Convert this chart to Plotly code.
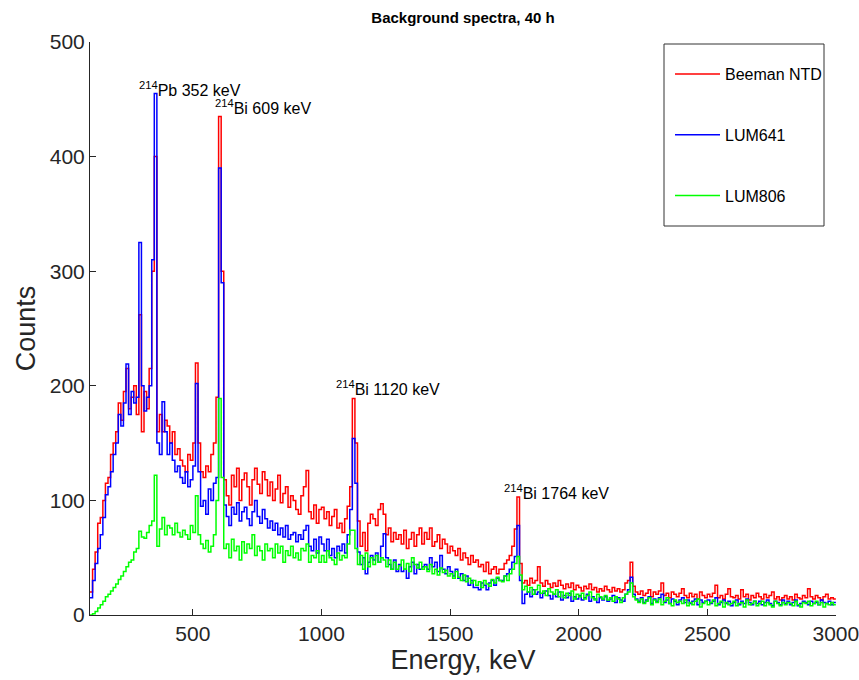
import numpy as np
import plotly.graph_objects as go

# 10 keV bins, left edges from 100 keV up to 2990 keV
energy = np.arange(100, 3000, 10)

beeman_ntd = [
    20, 40, 55, 80, 85, 100, 115, 120, 140, 150,
    160, 185, 170, 195, 215, 180, 190, 200, 175, 262,
    160, 195, 180, 215, 300, 400, 160, 175, 160, 170,
    165, 150, 160, 140, 145, 135, 130, 125, 140, 135,
    150, 220, 150, 125, 120, 130, 125, 140, 150, 190,
    435, 300, 118, 104, 96, 122, 112, 128, 100, 118,
    124, 112, 96, 118, 128, 114, 106, 125, 118, 104,
    116, 100, 110, 122, 98, 106, 112, 94, 104, 100,
    92, 88, 104, 112, 126, 90, 84, 96, 80, 92,
    94, 84, 90, 78, 86, 92, 76, 80, 72, 84,
    95, 112, 189, 150, 82, 60, 72, 56, 80, 88,
    84, 78, 92, 97, 88, 70, 76, 64, 72, 66,
    70, 62, 74, 58, 66, 72, 60, 70, 76, 62,
    72, 66, 76, 60, 64, 70, 58, 66, 62, 54,
    60, 56, 52, 58, 48, 54, 50, 44, 52, 46,
    48, 42, 44, 38, 46, 36, 40, 42, 36, 40,
    40, 45, 48, 52, 60, 75, 103, 45, 28, 30,
    26, 32, 28, 30, 42, 28, 25, 30, 27, 24,
    28, 25, 30, 26, 23, 27, 24, 28, 22, 26,
    24, 21, 25, 23, 27, 22, 24, 20, 23, 21,
    25, 22, 20, 24, 21, 23, 20, 22, 28, 30,
    46, 25, 20, 18, 21, 17, 19, 22, 16, 20,
    18, 21, 28, 17, 19, 15, 20, 18, 16, 19,
    23, 17, 15, 19, 16, 18, 14, 20, 17, 15,
    18, 16, 19, 26, 15, 17, 14, 18, 23, 16,
    15, 17, 14, 22, 16, 18, 13, 17, 15, 19,
    16, 14, 18, 15, 17, 20, 14, 16, 13, 15,
    17, 14, 16, 13, 18, 15, 14, 17, 15, 23,
    16, 14, 17, 15, 13, 16, 18, 14, 15, 14,
]

lum641 = [
    15, 30, 45, 58, 70, 85, 105, 112, 125, 140,
    150, 175, 165, 185, 219, 175, 195, 185, 190, 325,
    200, 178, 190, 200, 310, 455, 150, 140, 186, 160,
    140, 150, 135, 125, 130, 120, 115, 125, 112, 118,
    130, 202, 125, 95, 100, 88, 110, 100, 115, 120,
    390, 290, 96, 86, 78, 94, 88, 98, 82, 90,
    94, 84, 78, 90, 100, 86, 80, 92, 84, 76,
    82, 74, 80, 70, 76, 68, 78, 66, 70, 72,
    64, 70, 66, 74, 78, 60, 56, 66, 54, 68,
    62, 56, 66, 52, 58, 50, 60, 56, 62, 54,
    70, 92, 154, 115, 55, 44, 50, 36, 46, 52,
    48, 54, 46, 60, 71, 50, 44, 40, 48, 38,
    44, 38, 40, 32, 42, 46, 36, 44, 40, 42,
    44, 40, 50, 42, 46, 38, 52, 40, 36, 42,
    38, 34, 40, 32, 36, 30, 34, 26, 30, 24,
    24, 22, 28, 26, 22, 28, 30, 26, 32, 30,
    30, 34, 36, 40, 46, 51, 78, 30, 10, 18,
    20, 16, 22, 18, 20, 15, 19, 21, 17, 14,
    18, 16, 20, 13, 17, 15, 19, 12, 16, 14,
    17, 13, 15, 18, 12, 16, 14, 11, 15, 13,
    16, 12, 14, 17, 11, 15, 13, 12, 18, 22,
    33, 18, 14, 12, 15, 11, 13, 16, 10, 14,
    12, 15, 18, 11, 13, 10, 14, 12, 9, 13,
    15, 11, 13, 10, 12, 14, 9, 13, 11, 12,
    13, 10, 12, 15, 9, 11, 13, 10, 12, 8,
    11, 13, 9, 12, 10, 14, 11, 9, 12, 10,
    12, 9, 11, 13, 10, 8, 12, 11, 9, 13,
    10, 12, 9, 11, 13, 8, 10, 12, 11, 9,
    12, 10, 11, 9, 13, 11, 10, 12, 9, 11,
]

lum806 = [
    0, 1, 3, 6, 9, 12, 16, 18, 21, 24,
    27, 31, 34, 38, 42, 46, 48, 55, 58, 73,
    68, 67, 72, 78, 82, 122, 60, 75, 85, 70,
    78, 76, 70, 80, 72, 68, 74, 70, 66, 78,
    72, 104, 70, 62, 58, 65, 55, 60, 70, 100,
    189, 120, 58, 62, 50, 66, 56, 60, 48, 64,
    54, 62, 58, 70, 52, 60, 56, 48, 62, 56,
    58, 50, 62, 54, 60, 46, 56, 52, 60, 50,
    54, 48, 58, 56, 62, 46, 52, 50, 56, 46,
    52, 46, 56, 50, 48, 44, 54, 48, 52, 50,
    62, 74, 74, 58, 44, 52, 40, 54, 42, 50,
    44, 52, 46, 50, 48, 42, 48, 40, 46, 40,
    43, 48, 40, 45, 38, 50, 44, 41, 46, 40,
    42, 38, 44, 36, 40, 35, 41, 37, 39, 34,
    36, 32, 38, 33, 30, 35, 29, 32, 28, 30,
    26, 29, 24, 30, 27, 25, 31, 28, 33, 30,
    29, 34, 30, 36, 40, 45, 51, 35, 22, 25,
    20, 24, 18, 22, 26, 19, 21, 17, 23, 20,
    18, 22, 16, 20, 15, 19, 17, 21, 14, 18,
    16, 19, 14, 17, 20, 15, 13, 18, 16, 14,
    17, 13, 15, 12, 16, 14, 11, 15, 18, 20,
    28, 16, 13, 11, 14, 10, 12, 15, 9, 13,
    11, 14, 9, 12, 15, 10, 8, 13, 11, 12,
    10, 13, 8, 11, 9, 12, 14, 7, 10, 12,
    9, 11, 13, 8, 10, 12, 7, 11, 9, 10,
    12, 8, 10, 11, 7, 13, 9, 10, 12, 8,
    10, 12, 8, 11, 9, 7, 12, 10, 8, 11,
    9, 11, 10, 8, 12, 9, 7, 11, 10, 12,
    8, 10, 12, 9, 11, 7, 10, 9, 11, 9,
]

series = [("Beeman NTD", beeman_ntd, "#ff0000"),
          ("LUM641", lum641, "#0000ff"),
          ("LUM806", lum806, "#00ff00")]

peak_labels = ["<sup>214</sup>Pb 352 keV", "<sup>214</sup>Bi 609 keV",
               "<sup>214</sup>Bi 1120 keV", "<sup>214</sup>Bi 1764 keV"]
label_x = [283, 580, 1047, 1702]
label_y = [459, 443, 198, 107]

font = "Liberation Sans, Arial, sans-serif"
ink = "#262626"

fig = go.Figure()
x_edges = np.append(energy, 3000)
for i, (name, vals, col) in enumerate(series):
    y = np.append(vals, vals[-1])
    fig.add_trace(go.Scatter(x=x_edges, y=y, mode="lines", name=name,
                             line=dict(color=col, width=1.5, shape="hv"),
                             legendgroup=str(i)))

for txt, lx, ly in zip(peak_labels, label_x, label_y):
    fig.add_annotation(x=lx, y=ly, text=txt, showarrow=False, xanchor="left",
                       yanchor="middle", font=dict(size=16, color="black", family=font))

# legend frame
fig.add_shape(type="rect", xref="paper", yref="paper",
              x0=(664 - 90) / 746, x1=(824 - 90) / 746,
              y0=1 - (226 - 42) / 573, y1=1 - (44 - 42) / 573,
              line=dict(color="#333333", width=1))

axis_common = dict(showline=True, linecolor=ink, linewidth=1, ticks="inside", ticklen=6,
                   tickcolor=ink, showgrid=False, zeroline=False, mirror=False,
                   automargin=False, ticklabeloverflow="allow",
                   tickfont=dict(size=21, color=ink, family=font))

fig.update_layout(
    width=859, height=680,
    margin=dict(l=90, r=23, t=42, b=65, autoexpand=False),
    paper_bgcolor="white", plot_bgcolor="white",
    title=dict(text="<b>Background spectra, 40 h</b>", x=0.5, xref="paper", y=0.974,
               yanchor="middle", font=dict(size=15, color="black", family=font)),
    xaxis=dict(range=[100, 3000.5], tickvals=[500, 1000, 1500, 2000, 2500, 3000],
               title=dict(text="Energy, keV", font=dict(size=27, color=ink, family=font), standoff=2),
               **axis_common),
    yaxis=dict(range=[0, 500], tickvals=[0, 100, 200, 300, 400, 500],
               title=dict(text="Counts", font=dict(size=27, color=ink, family=font), standoff=6),
               **axis_common),
    legend=dict(x=(670 - 90) / 746, y=1 - (57 - 42) / 573, xanchor="left", yanchor="top",
                bgcolor="rgba(0,0,0,0)", borderwidth=0, tracegroupgap=37, itemwidth=45,
                font=dict(size=16, color="black", family=font)),
    showlegend=True,
)

fig.write_html("out.html", post_script="document.body.style.margin='0';",
               config={"displayModeBar": False})
